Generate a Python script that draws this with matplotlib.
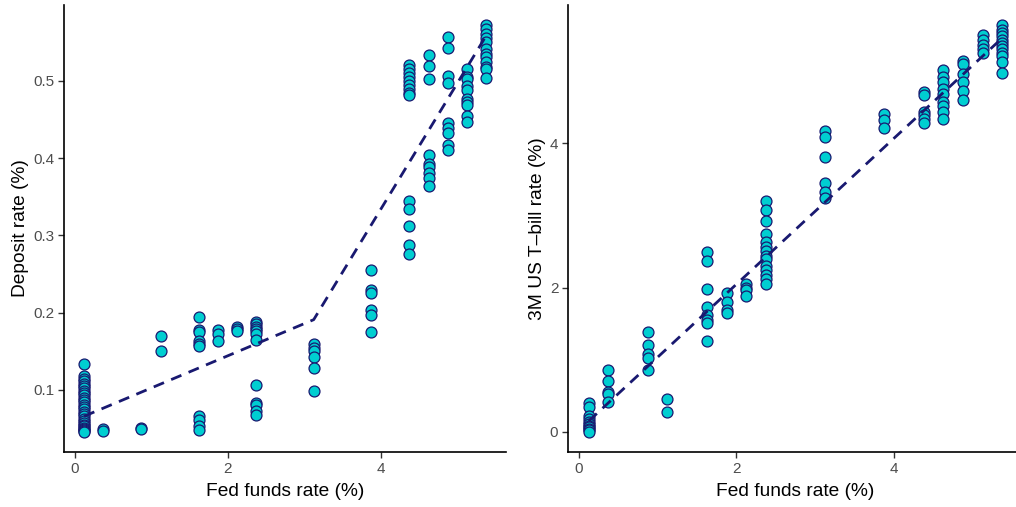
import matplotlib
matplotlib.use("Agg")
import matplotlib.pyplot as plt
import numpy as np

plt.rcParams['font.family'] = ['Liberation Sans', 'DejaVu Sans']

# fed funds rate (%) and deposit rate (%) -- left panel
dep = {
    0.125: [0.134, 0.118, 0.114, 0.111, 0.108, 0.105, 0.102, 0.099, 0.096, 0.093,
            0.090, 0.087, 0.084, 0.081, 0.078, 0.075, 0.072, 0.069, 0.066, 0.063,
            0.060, 0.057, 0.055, 0.053, 0.051, 0.049, 0.048, 0.047, 0.046],
    0.375: [0.049, 0.047],
    0.875: [0.051, 0.049],
    1.125: [0.170, 0.151],
    1.625: [0.194, 0.177, 0.175, 0.164, 0.160, 0.157, 0.066, 0.061, 0.054, 0.048],
    1.875: [0.177, 0.172, 0.164],
    2.125: [0.182, 0.179, 0.176],
    2.375: [0.188, 0.185, 0.182, 0.179, 0.176, 0.172, 0.165,
            0.106, 0.083, 0.080, 0.073, 0.067],
    3.125: [0.160, 0.154, 0.150, 0.143, 0.128, 0.099],
    3.875: [0.255, 0.229, 0.225, 0.203, 0.197, 0.175],
    4.375: [0.520, 0.515, 0.510, 0.505, 0.500, 0.495, 0.490, 0.485, 0.482,
            0.345, 0.334, 0.312, 0.287, 0.276],
    4.625: [0.533, 0.519, 0.502, 0.404, 0.392, 0.388, 0.381, 0.375, 0.364],
    4.875: [0.557, 0.543, 0.507, 0.497, 0.445, 0.439, 0.432, 0.417, 0.410],
    5.125: [0.516, 0.505, 0.502, 0.494, 0.488, 0.477, 0.473, 0.469, 0.454, 0.447],
    5.375: [0.572, 0.567, 0.561, 0.556, 0.550, 0.541, 0.535, 0.531, 0.524, 0.518,
            0.516, 0.504],
}
dep_fit_x = [0.125, 3.125, 5.375]
dep_fit_y = [0.066, 0.191, 0.558]

# fed funds rate (%) and 3M T-bill rate (%) -- right panel
tbill = {
    0.125: [0.40, 0.34, 0.22, 0.17, 0.13, 0.10, 0.08, 0.06, 0.04, 0.02, 0.0],
    0.375: [0.85, 0.70, 0.55, 0.52, 0.41],
    0.875: [1.39, 1.21, 1.08, 1.02, 0.85],
    1.125: [0.45, 0.28],
    1.625: [2.49, 2.37, 1.98, 1.73, 1.62, 1.55, 1.51, 1.26],
    1.875: [1.92, 1.80, 1.69, 1.65],
    2.125: [2.05, 2.00, 1.96, 1.88],
    2.375: [3.20, 3.08, 2.92, 2.74, 2.63, 2.56, 2.51, 2.44, 2.40, 2.30,
            2.24, 2.17, 2.12, 2.05],
    3.125: [4.18, 4.09, 3.81, 3.45, 3.33, 3.24],
    3.875: [4.41, 4.32, 4.22],
    4.375: [4.72, 4.67, 4.44, 4.39, 4.34, 4.29],
    4.625: [5.02, 4.92, 4.85, 4.76, 4.69, 4.58, 4.52, 4.43, 4.34],
    4.875: [5.15, 5.10, 4.96, 4.85, 4.73, 4.61],
    5.125: [5.50, 5.44, 5.37, 5.31, 5.25],
    5.375: [5.64, 5.58, 5.54, 5.49, 5.44, 5.40, 5.35, 5.31, 5.26, 5.21, 5.13, 4.98],
}
tbill_fit_x = [0.125, 5.375]
tbill_fit_y = [0.147, 5.465]

fill = '#00CED1'
edge = '#191970'
txt = '#4D4D4D'

fig = plt.figure(figsize=(10.16, 5.07), dpi=100)
ax1 = fig.add_axes([64 / 1016, 55 / 507, 442 / 1016, 447 / 507])
# right panel runs a little past the image edge, as in the original
ax2 = fig.add_axes([568 / 1016, 55 / 507, 455 / 1016, 447 / 507])


def flat(d):
    xs, ys = [], []
    for k in d:
        xs += [k] * len(d[k])
        ys += d[k]
    return np.array(xs), np.array(ys)


for ax, d, fx, fy, ylab, ticks in [
        (ax1, dep, dep_fit_x, dep_fit_y, 'Deposit rate (%)', [0.1, 0.2, 0.3, 0.4, 0.5]),
        (ax2, tbill, tbill_fit_x, tbill_fit_y, '3M US T\u2013bill rate (%)', [0, 2, 4])]:
    x, y = flat(d)
    ax.scatter(x, y, s=62, c=fill, edgecolors=edge, linewidths=0.9, zorder=2)
    ax.plot(fx, fy, ls=(0, (4, 2.8)), color=edge, lw=2, zorder=3)
    ax.set_xlim(-0.1375, 5.6375)
    rng = y.max() - y.min()
    ax.set_ylim(y.min() - 0.05 * rng, y.max() + 0.05 * rng)
    ax.set_xticks([0, 2, 4])
    ax.set_yticks(ticks)
    ax.set_yticklabels([('%g' % t) for t in ticks])
    ax.spines['top'].set_visible(False)
    ax.spines['right'].set_visible(False)
    ax.spines['left'].set_linewidth(1.2)
    ax.spines['bottom'].set_linewidth(1.2)
    ax.tick_params(length=4, width=1, color='#333333', labelcolor=txt,
                   labelsize=11, pad=3)
    ax.set_xlabel('Fed funds rate (%)', fontsize=13.8, labelpad=5)
    ax.set_ylabel(ylab, fontsize=13.8, labelpad=3)

fig.savefig('out.png', dpi=100)
